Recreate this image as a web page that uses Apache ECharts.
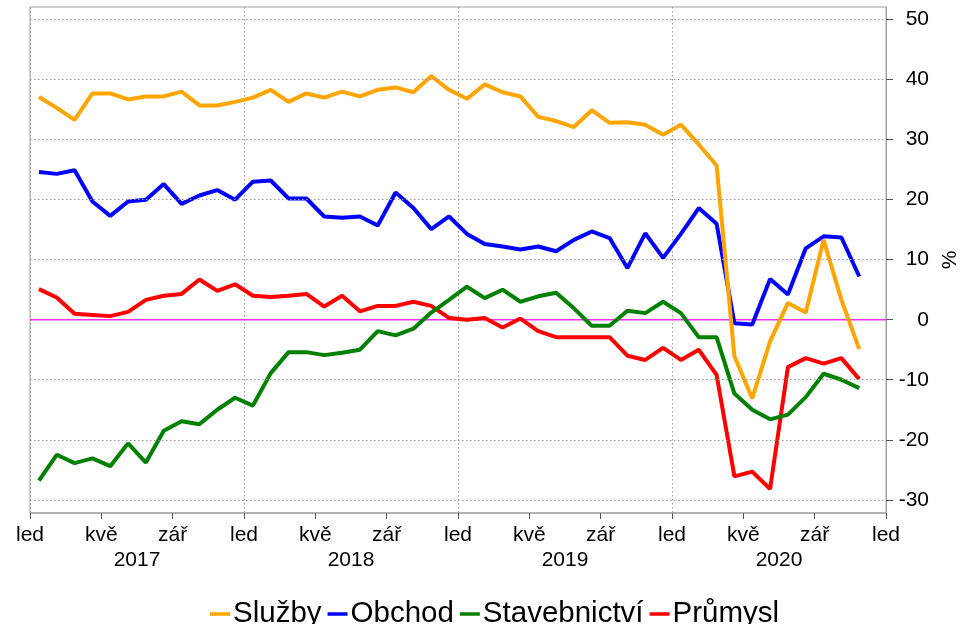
<!DOCTYPE html>
<html>
<head>
<meta charset="utf-8">
<script src="https://cdn.jsdelivr.net/npm/echarts@6/dist/echarts.min.js"></script>
<style>
html, body { margin: 0; padding: 0; background: #fff; }
#chart { width: 961px; height: 624px; }
</style>
</head>
<body>
<div id="chart"></div>
<script>
// měsíční hodnoty, led 2017 – lis 2020
const sluzby = [37.1, 35.3, 33.3, 37.7, 37.7, 36.7, 37.2, 37.2, 38.0, 35.7, 35.7, 36.3,
  37.0, 38.3, 36.3, 37.7, 37.0, 38.0, 37.2, 38.3, 38.7, 37.9, 40.6, 38.3,
  36.8, 39.2, 37.9, 37.2, 33.8, 33.1, 32.1, 34.9, 32.8, 32.9, 32.5, 30.8,
  32.5, 29.2, 25.7, -6.1, -13.1, -3.6, 2.8, 1.2, 13.3, 3.3, -4.9];
const obchod = [24.6, 24.3, 24.9, 19.7, 17.3, 19.7, 20.0, 22.6, 19.3, 20.7, 21.6, 20.0,
  23.0, 23.2, 20.2, 20.2, 17.2, 17.0, 17.2, 15.7, 21.2, 18.6, 15.1, 17.2,
  14.3, 12.6, 12.2, 11.7, 12.2, 11.4, 13.3, 14.7, 13.6, 8.6, 14.4, 10.3,
  14.3, 18.6, 16.0, -0.6, -0.8, 6.8, 4.2, 11.9, 13.9, 13.7, 7.2];
const stavebnictvi = [-26.8, -22.5, -23.9, -23.1, -24.4, -20.6, -23.8, -18.5, -16.9, -17.4, -15.0, -13.0,
  -14.3, -8.9, -5.4, -5.4, -5.9, -5.5, -5.0, -1.9, -2.6, -1.5, 1.2, 3.3,
  5.5, 3.6, 5.0, 3.0, 3.9, 4.5, 1.9, -1.0, -1.0, 1.5, 1.1, 3.0,
  1.1, -2.9, -2.9, -12.3, -15.0, -16.6, -15.8, -12.9, -9.0, -10.0, -11.4];
const prumysl = [5.1, 3.7, 1.0, 0.8, 0.6, 1.3, 3.3, 4.0, 4.3, 6.7, 4.8, 5.9,
  4.0, 3.8, 4.0, 4.3, 2.2, 4.0, 1.4, 2.3, 2.3, 3.0, 2.3, 0.3,
  0.0, 0.3, -1.3, 0.2, -1.9, -2.9, -2.9, -2.9, -2.9, -6.0, -6.7, -4.7,
  -6.7, -5.0, -9.2, -26.1, -25.3, -28.2, -7.9, -6.4, -7.3, -6.4, -9.9];

const monthLabels = ['led', 'kvě', 'zář'];
const yearLabels = ['2017', '2018', '2019', '2020'];
const yTicks = [-30, -20, -10, 0, 10, 20, 30, 40, 50];

// bod leží uprostřed měsíce
function toPairs(arr) {
  return arr.map((v, i) => [i + 0.5, v]);
}

const font = '"Liberation Sans", Arial, sans-serif';
const frameGray = '#a0a0a0';
const dotGray = '#999';

let myChart = echarts.init(document.getElementById('chart'));
myChart.setOption({
  animation: false,
  textStyle: { fontFamily: font },
  grid: {
    left: 30, right: 75, top: 7, bottom: 111,
    outerBoundsMode: 'none',
    show: true, borderColor: frameGray, borderWidth: 1
  },
  legend: {
    data: ['Služby', 'Obchod', 'Stavebnictví', 'Průmysl'],
    left: 205,
    top: 594,
    icon: 'rect',
    itemWidth: 20,
    itemHeight: 3.5,
    itemGap: 6,
    textStyle: { fontSize: 29.5, color: '#000', fontFamily: font, padding: [0, 0, 0, -2] }
  },
  xAxis: [
    {
      type: 'value', min: 0, max: 48, interval: 4,
      axisLine: { onZero: false, lineStyle: { color: '#aaa', width: 1.5 } },
      axisTick: { length: 6, lineStyle: { color: '#555' } },
      axisLabel: {
        formatter: v => monthLabels[(v % 12) / 4],
        fontSize: 21, color: '#000', margin: 12
      },
      splitLine: { show: false }
    },
    {
      type: 'value', min: 0, max: 48, interval: 12, position: 'bottom', offset: 29,
      axisLine: { show: false, onZero: false },
      axisTick: { show: false },
      axisLabel: {
        customValues: [6, 18, 30, 42],
        formatter: v => yearLabels[(v - 6) / 12],
        fontSize: 21, color: '#000', margin: 8
      },
      splitLine: { show: true, lineStyle: { type: [1.5, 2.5], color: dotGray, width: 1 } }
    }
  ],
  yAxis: {
    type: 'value', position: 'right', min: -32.2, max: 52.1,
    axisLine: { show: true, onZero: false, lineStyle: { color: frameGray } },
    axisTick: { show: true, customValues: yTicks, length: 7, lineStyle: { color: '#555' } },
    axisLabel: { customValues: yTicks, align: 'right', margin: 43, fontSize: 21, color: '#000' },
    splitLine: { show: false },
    name: '%', nameLocation: 'middle', nameGap: 49,
    nameTextStyle: { fontSize: 21, color: '#000' }
  },
  series: [
    {
      // tečkovaná mřížka
      name: 'mrizka', type: 'line', data: [], z: 1, silent: true,
      markLine: {
        silent: true, symbol: 'none', label: { show: false },
        lineStyle: { type: [1.5, 2.5], color: dotGray, width: 1 },
        data: yTicks.filter(v => v !== 0).map(v => ({ yAxis: v }))
      }
    },
    {
      // nulová čára přes celou šířku osy
      name: 'nula', type: 'line', data: [[0, 0], [48, 0]], z: 1, silent: true,
      symbol: 'none', lineStyle: { width: 1.5, color: '#ee33ee', type: 'solid' },
      itemStyle: { color: '#ee33ee' }
    },
    { name: 'Průmysl', type: 'line', data: toPairs(prumysl), symbol: 'none', z: 2, lineStyle: { width: 4, color: '#ff0000' }, itemStyle: { color: '#ff0000' } },
    { name: 'Stavebnictví', type: 'line', data: toPairs(stavebnictvi), symbol: 'none', z: 2, lineStyle: { width: 4, color: '#008000' }, itemStyle: { color: '#008000' } },
    { name: 'Obchod', type: 'line', data: toPairs(obchod), symbol: 'none', z: 2, lineStyle: { width: 4, color: '#0000ff' }, itemStyle: { color: '#0000ff' } },
    { name: 'Služby', type: 'line', data: toPairs(sluzby), symbol: 'none', z: 2, lineStyle: { width: 4, color: '#ffa500' }, itemStyle: { color: '#ffa500' } }
  ]
});
</script>
</body>
</html>
